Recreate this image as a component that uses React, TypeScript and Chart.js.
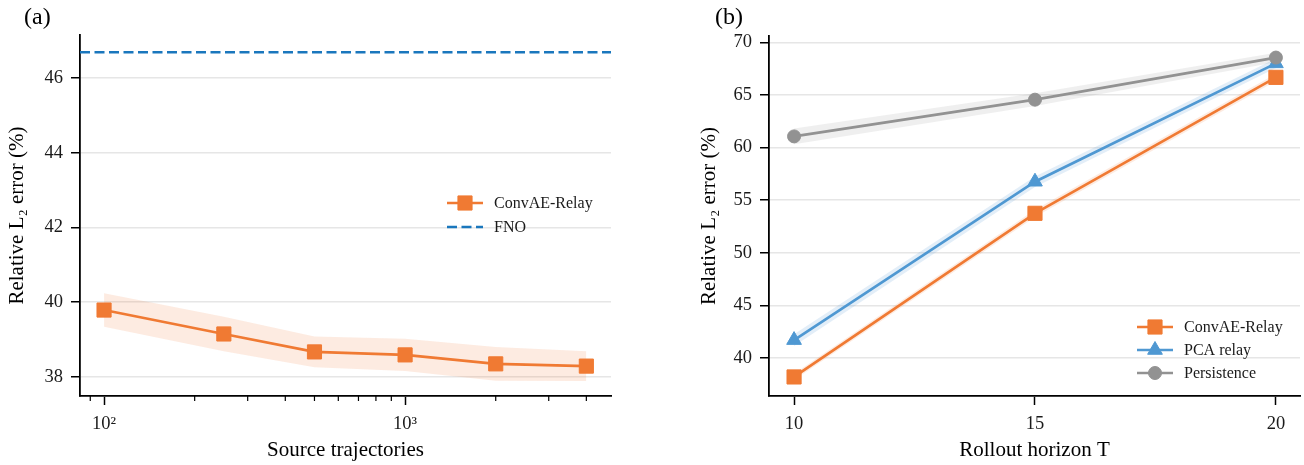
import React, { useEffect, useRef } from 'react';
import { Chart, registerables } from 'chart.js';
import { drawPoint } from 'chart.js/helpers';

Chart.register(...registerables);

const FONT = "'Liberation Serif', 'DejaVu Serif', serif";

// ---------- Panel (a) data ----------
const sourceTrajectories = [100, 250, 500, 1000, 2000, 4000];
const convAeErrorA = [39.79, 39.15, 38.67, 38.59, 38.35, 38.29];
const convAeStdA = [0.45, 0.46, 0.41, 0.43, 0.45, 0.4];
const fnoError = 46.69;
const xRangeA = [83.2, 4830];
const yRangeA = [37.49, 47.15];
const xMajorTicksA = [100, 1000];
const xMinorTicksA = [90, 200, 300, 400, 500, 600, 700, 800, 900, 2000, 3000, 4000];
const yTicksA = [38, 40, 42, 44, 46];

// ---------- Panel (b) data ----------
const rolloutHorizon = [10, 15, 20];
const convAeErrorB = [38.2, 53.75, 66.67];
const convAeStdB = [0.3, 0.35, 0.35];
const pcaErrorB = [41.7, 56.75, 68.0];
const pcaStdB = [0.55, 0.5, 0.45];
const persistenceErrorB = [61.06, 64.55, 68.55];
const persistenceStdB = [0.75, 0.6, 0.45];
const xRangeB = [9.48, 20.5];
const yRangeB = [36.39, 70.6];
const xTicksB = [10, 15, 20];
const yTicksB = [40, 45, 50, 55, 60, 65, 70];

// ---------- Styles ----------
const ORANGE = '#F07A33';
const ORANGE_BAND = 'rgba(240,122,51,0.15)';
const FNO_BLUE = '#1A77BD';
const PCA_BLUE = '#4F98D2';
const PCA_BAND = 'rgba(79,152,210,0.16)';
const GRAY = '#929292';
const GRAY_BAND = 'rgba(146,146,146,0.15)';
const TEXT = '#1a1a1a';
const LW = 2.7;

const decorPlugin = {
  id: 'panelDecor',
  afterDraw(chart: any, _args: any, opts: any) {
    const ctx = chart.ctx as CanvasRenderingContext2D;
    ctx.save();
    if (opts.minorTicks) {
      const sc = chart.scales.x;
      ctx.strokeStyle = '#000';
      ctx.lineWidth = 1.2;
      for (const v of opts.minorTicks.values) {
        const px = sc.getPixelForValue(v);
        ctx.beginPath();
        ctx.moveTo(px, sc.top);
        ctx.lineTo(px, sc.top + opts.minorTicks.length);
        ctx.stroke();
      }
    }
    if (opts.label) {
      ctx.font = `24px ${FONT}`;
      ctx.fillStyle = '#000';
      ctx.textBaseline = 'middle';
      ctx.textAlign = 'left';
      ctx.fillText(opts.label, opts.labelX, opts.labelY);
    }
    const lg = opts.legend;
    if (lg) {
      lg.items.forEach((it: any, i: number) => {
        const y = lg.y + i * lg.spacing;
        ctx.strokeStyle = it.color;
        ctx.lineWidth = it.lineWidth;
        ctx.setLineDash(it.dash || []);
        ctx.beginPath();
        ctx.moveTo(lg.x, y);
        ctx.lineTo(lg.x + lg.handle, y);
        ctx.stroke();
        ctx.setLineDash([]);
        if (it.pointStyle) {
          ctx.fillStyle = it.color;
          ctx.strokeStyle = it.color;
          ctx.lineWidth = 1;
          drawPoint(ctx, { pointStyle: it.pointStyle, radius: it.radius, rotation: 0, borderWidth: 1 } as any, lg.x + lg.handle / 2, y);
        }
        ctx.fillStyle = TEXT;
        ctx.font = `16px ${FONT}`;
        ctx.textAlign = 'left';
        ctx.textBaseline = 'middle';
        ctx.fillText(it.label, lg.x + lg.handle + lg.gap, y + 1);
      });
    }
    ctx.restore();
  },
};

const tickFont = { family: FONT, size: 18.5 };
const titleFont = { family: FONT, size: 21 };

const fixX = (s: any) => { s.height = 69; s.paddingLeft = 0; s.paddingRight = 0; };

function bandPair(xs: number[], mean: number[], std: number[], color: string, order: number) {
  const upper = xs.map((x, i) => ({ x, y: mean[i] + std[i] }));
  const lower = xs.map((x, i) => ({ x, y: mean[i] - std[i] }));
  return [
    { data: upper, borderWidth: 0, pointRadius: 0, fill: false, backgroundColor: color, order },
    { data: lower, borderWidth: 0, pointRadius: 0, fill: '-1', backgroundColor: color, order },
  ];
}

function configA(): any {
  const pts = (ys: number[]) => sourceTrajectories.map((x, i) => ({ x, y: ys[i] }));
  return {
    type: 'line',
    data: {
      datasets: [
        ...bandPair(sourceTrajectories, convAeErrorA, convAeStdA, ORANGE_BAND, 10),
        {
          label: 'ConvAE-Relay', data: pts(convAeErrorA), borderColor: ORANGE, backgroundColor: ORANGE,
          borderWidth: LW, pointStyle: 'rect', pointRadius: 10, pointBorderWidth: 1, pointBorderColor: ORANGE,
          fill: false, order: 1,
        },
        {
          label: 'FNO', data: [{ x: xRangeA[0], y: fnoError }, { x: xRangeA[1], y: fnoError }],
          borderColor: FNO_BLUE, borderWidth: 2.6, borderDash: [10, 4.5], pointRadius: 0, fill: false, order: 2,
        },
      ],
    },
    options: {
      responsive: false,
      animation: false,
      layout: { autoPadding: false, padding: { left: 0, right: 39, top: 35, bottom: 0 } },
      plugins: {
        legend: { display: false },
        tooltip: { enabled: false },
        panelDecor: {
          label: '(a)', labelX: 24, labelY: 18,
          minorTicks: { values: xMinorTicksA, length: 5 },
          legend: {
            x: 447, y: 203, spacing: 24, handle: 36, gap: 11,
            items: [
              { label: 'ConvAE-Relay', color: ORANGE, lineWidth: LW, pointStyle: 'rect', radius: 10 },
              { label: 'FNO', color: FNO_BLUE, lineWidth: 2.6, dash: [10, 4.5] },
            ],
          },
        },
      },
      scales: {
        x: {
          type: 'logarithmic', min: xRangeA[0], max: xRangeA[1],
          afterFit: fixX,
          afterBuildTicks: (s: any) => { s.ticks = xMajorTicksA.map((v) => ({ value: v, major: true })); },
          grid: { display: true, drawOnChartArea: false, drawTicks: true, tickLength: 9, tickColor: '#000', tickWidth: 1.5 },
          border: { display: true, color: '#000', width: 1.8 },
          ticks: {
            autoSkip: false, maxRotation: 0, padding: 8, color: TEXT, font: tickFont,
            callback: (v: any) => (v === 100 ? '10²' : v === 1000 ? '10³' : ''),
          },
          title: { display: true, text: 'Source trajectories', color: '#000', font: titleFont, padding: { top: 0, bottom: 2 } },
        },
        y: {
          type: 'linear', min: yRangeA[0], max: yRangeA[1],
          afterFit: (s: any) => { s.width = 80; },
          afterBuildTicks: (s: any) => { s.ticks = yTicksA.map((v) => ({ value: v })); },
          grid: { color: '#e6e6e6', lineWidth: 1.5, drawTicks: true, tickLength: 9, tickColor: '#000', tickWidth: 1.5 },
          border: { display: true, color: '#000', width: 1.8 },
          ticks: { padding: 8, color: TEXT, font: tickFont },
          title: { display: true, text: 'Relative L₂ error (%)', color: '#000', font: titleFont, padding: { top: 5, bottom: 0 } },
        },
      },
    },
    plugins: [decorPlugin],
  };
}

function configB(): any {
  const pts = (ys: number[]) => rolloutHorizon.map((x, i) => ({ x, y: ys[i] }));
  return {
    type: 'line',
    data: {
      datasets: [
        ...bandPair(rolloutHorizon, convAeErrorB, convAeStdB, ORANGE_BAND, 10),
        ...bandPair(rolloutHorizon, pcaErrorB, pcaStdB, PCA_BAND, 11),
        ...bandPair(rolloutHorizon, persistenceErrorB, persistenceStdB, GRAY_BAND, 12),
        {
          label: 'ConvAE-Relay', data: pts(convAeErrorB), borderColor: ORANGE, backgroundColor: ORANGE,
          borderWidth: LW, pointStyle: 'rect', pointRadius: 10, pointBorderWidth: 1, pointBorderColor: ORANGE,
          fill: false, order: 3,
        },
        {
          label: 'PCA relay', data: pts(pcaErrorB), borderColor: PCA_BLUE, backgroundColor: PCA_BLUE,
          borderWidth: LW, pointStyle: 'triangle', pointRadius: 8.5, pointBorderWidth: 1, pointBorderColor: PCA_BLUE,
          fill: false, order: 2,
        },
        {
          label: 'Persistence', data: pts(persistenceErrorB), borderColor: GRAY, backgroundColor: GRAY,
          borderWidth: LW, pointStyle: 'circle', pointRadius: 6.5, pointBorderWidth: 1, pointBorderColor: GRAY,
          fill: false, order: 1,
        },
      ],
    },
    options: {
      responsive: false,
      animation: false,
      layout: { autoPadding: false, padding: { left: 42, right: 4, top: 36, bottom: 0 } },
      plugins: {
        legend: { display: false },
        tooltip: { enabled: false },
        panelDecor: {
          label: '(b)', labelX: 65, labelY: 18,
          legend: {
            x: 487, y: 327, spacing: 23, handle: 36, gap: 11,
            items: [
              { label: 'ConvAE-Relay', color: ORANGE, lineWidth: LW, pointStyle: 'rect', radius: 10 },
              { label: 'PCA relay', color: PCA_BLUE, lineWidth: LW, pointStyle: 'triangle', radius: 8.5 },
              { label: 'Persistence', color: GRAY, lineWidth: LW, pointStyle: 'circle', radius: 6.5 },
            ],
          },
        },
      },
      scales: {
        x: {
          type: 'linear', min: xRangeB[0], max: xRangeB[1],
          afterFit: fixX,
          afterBuildTicks: (s: any) => { s.ticks = xTicksB.map((v) => ({ value: v })); },
          grid: { display: true, drawOnChartArea: false, drawTicks: true, tickLength: 9, tickColor: '#000', tickWidth: 1.5 },
          border: { display: true, color: '#000', width: 1.8 },
          ticks: { autoSkip: false, maxRotation: 0, padding: 8, color: TEXT, font: tickFont },
          title: { display: true, text: 'Rollout horizon T', color: '#000', font: titleFont, padding: { top: 0, bottom: 2 } },
        },
        y: {
          type: 'linear', min: yRangeB[0], max: yRangeB[1],
          afterFit: (s: any) => { s.width = 77; },
          afterBuildTicks: (s: any) => { s.ticks = yTicksB.map((v) => ({ value: v })); },
          grid: { color: '#e6e6e6', lineWidth: 1.5, drawTicks: true, tickLength: 9, tickColor: '#000', tickWidth: 1.5 },
          border: { display: true, color: '#000', width: 1.8 },
          ticks: { padding: 8, color: TEXT, font: tickFont },
          title: { display: true, text: 'Relative L₂ error (%)', color: '#000', font: titleFont, padding: { top: 5, bottom: 0 } },
        },
      },
    },
    plugins: [decorPlugin],
  };
}

function Panel({ make, left, width }: { make: () => any; left: number; width: number }) {
  const ref = useRef<HTMLCanvasElement>(null);
  useEffect(() => {
    const chart = new Chart(ref.current as HTMLCanvasElement, make());
    return () => chart.destroy();
  }, []);
  return (
    <div style={{ position: 'absolute', left, top: 0, width, height: 465 }}>
      <canvas ref={ref} width={width} height={465} style={{ display: 'block', width, height: 465 }} />
    </div>
  );
}

export default function App() {
  return (
    <div style={{ position: 'fixed', left: 0, top: 0, width: 1304, height: 465, background: '#fff' }}>
      <Panel make={configA} left={0} width={650} />
      <Panel make={configB} left={650} width={654} />
    </div>
  );
}
